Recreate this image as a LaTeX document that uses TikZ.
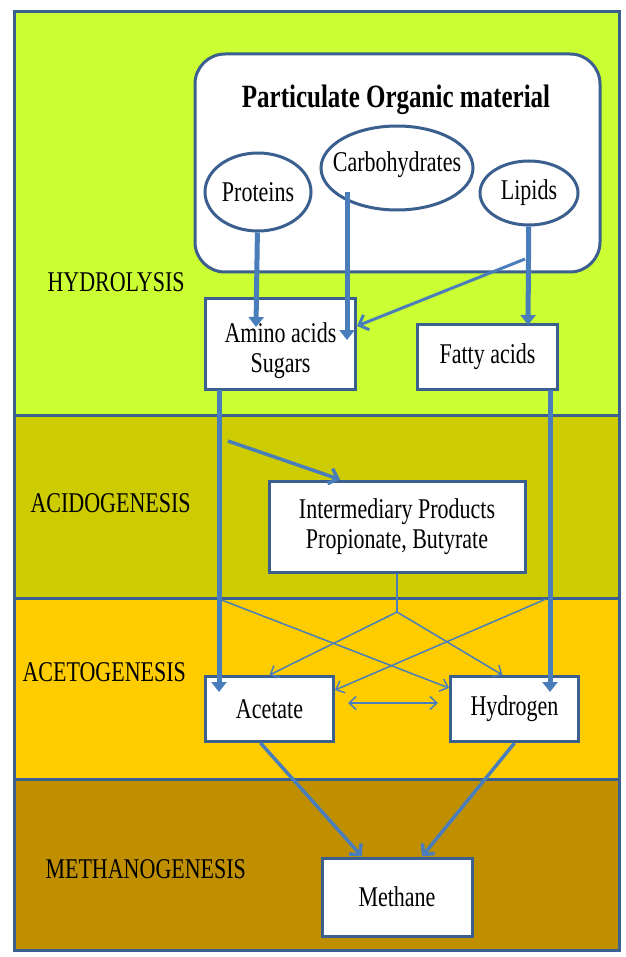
\documentclass[tikz,border=0pt]{standalone}
\usepackage{fontspec}
\usepackage{graphicx}
\setmainfont{Liberation Serif}
\usetikzlibrary{arrows.meta,shapes.geometric}
\definecolor{hydrolime}{HTML}{CCFF33}
\definecolor{acidolive}{HTML}{CCCC00}
\definecolor{acetogold}{HTML}{FFCC00}
\definecolor{methbrown}{HTML}{BF8F00}
\definecolor{edgeblue}{HTML}{3B5F8E}
\definecolor{flowblue}{HTML}{4A7EBB}
\newcommand{\tall}[1]{\scalebox{1}[1.3]{#1}}

\begin{document}
\begin{tikzpicture}[x=1pt, y=-1pt,
    band/.style={draw=edgeblue, line width=3pt},
    stage/.style={anchor=west, font=\fontsize{22}{26}\selectfont},
    box/.style={rectangle, draw=edgeblue, fill=white, line width=3pt, align=center, inner sep=0pt, font=\fontsize{22}{30}\selectfont},
    blob/.style={ellipse, draw=edgeblue, fill=white, line width=3pt, inner sep=-40pt, font=\fontsize{22}{26}\selectfont},
    fatflow/.style={draw=flowblue, line width=5pt, -{Triangle[width=15pt,length=10pt]}},
    midflow/.style={draw=flowblue, line width=3.5pt, -{Straight Barb[width=16pt,length=8pt]}},
    thinflow/.style={draw=flowblue, line width=1.5pt, -{Straight Barb[width=13pt,length=7pt]}}]

    \useasboundingbox (0,0) rectangle (625,957);
    \fill[white] (0,0) rectangle (625,957);

    % Stages
    \draw[band, fill=hydrolime] (14,12) rectangle (619,415);
    \draw[band, fill=acidolive] (14,415) rectangle (619,598);
    \draw[band, fill=acetogold] (14,598) rectangle (619,779);
    \draw[band, fill=methbrown] (14,779) rectangle (619,950);

    \node[stage] (hydro) at (44,282) {\tall{HYDROLYSIS}};
    \node[stage] (acido) at (27,503) {\tall{ACIDOGENESIS}};
    \node[stage] (aceto) at (19,672) {\tall{ACETOGENESIS}};
    \node[stage] (metha) at (42,869) {\tall{METHANOGENESIS}};

    % Particulate organic material
    \node[rectangle, draw=edgeblue, fill=white, line width=3pt, rounded corners=30pt,
          minimum width=405pt, minimum height=218pt] (pom) at (397.5,163) {};
    \node[font=\bfseries\fontsize{25}{30}\selectfont] (title) at (396,100) {\tall{Particulate Organic material}};

    \node[blob, minimum width=106pt, minimum height=78pt] (prot) at (258,192) {\tall{Proteins}};
    \node[blob, minimum width=152pt, minimum height=84pt] (carb) at (397,168) {\tall{Carbohydrates}\rule[-12pt]{0pt}{0pt}};
    \node[blob, minimum width=98pt, minimum height=64pt] (lipid) at (529,193) {\tall{Lipids}};

    % Products
    \node[box, minimum width=150pt, minimum height=91pt] (amino) at (280.5,344) {\rule{0pt}{34pt}\tall{Amino acids}\\\tall{Sugars}};
    \node[box, minimum width=140pt, minimum height=65pt] (fatty) at (487.5,357) {\tall{Fatty acids}};
    \node[box, minimum width=256pt, minimum height=91pt] (inter) at (397,526.5) {\tall{Intermediary Products}\\\tall{Propionate, Butyrate}};
    \node[box, minimum width=128pt, minimum height=65pt] (acet) at (269.5,709) {\tall{Acetate}};
    \node[box, minimum width=128pt, minimum height=65pt] (hydrog) at (514.5,709) {\tall{Hydrogen}};
    \node[box, minimum width=150pt, minimum height=78pt] (meth) at (397,897) {\tall{Methane}};

    % Free ends
    \coordinate (protin) at (256,327);
    \coordinate (carbtop) at (347,192);
    \coordinate (carbin) at (347,340);
    \coordinate (lipidout) at (525,259);
    \coordinate (lipidin) at (528,325);
    \coordinate (aminodown) at (219,390);
    \coordinate (acetin) at (219,692);
    \coordinate (fattydown) at (550,390);
    \coordinate (hydrogin) at (550,692);
    \coordinate (acidstart) at (228,441);
    \coordinate (split) at (397,612);
    \coordinate (crossa) at (219,599);
    \coordinate (crossb) at (546,599);

    % Hydrolysis
    \draw[fatflow] (prot) -- (protin);
    \draw[fatflow] (carbtop) -- (carbin);
    \draw[fatflow] (lipid) -- (lipidin);
    \draw[draw=flowblue, line width=3pt, -{Straight Barb[width=16pt,length=8pt]}] (lipidout) -- ([yshift=18pt]amino.east);

    % Acidogenesis
    \draw[fatflow] (aminodown) -- (acetin);
    \draw[fatflow] (fattydown) -- (hydrogin);
    \draw[midflow] (acidstart) -- ([xshift=-57pt]inter.north);

    % Acetogenesis
    \draw[draw=flowblue, line width=1.5pt] (inter.south) -- (split);
    \draw[thinflow] (split) -- (acet.north);
    \draw[thinflow] (split) -- ([xshift=-12pt]hydrog.north);
    \draw[thinflow] (crossa) -- ([yshift=21pt]hydrog.west);
    \draw[thinflow] (crossb) -- ([yshift=19pt]acet.east);
    \draw[thinflow, {Straight Barb[width=13pt,length=7pt]}-{Straight Barb[width=13pt,length=7pt]}] ([xshift=13pt,yshift=6pt]acet.east) -- ([xshift=-11pt,yshift=6pt]hydrog.west);

    % Methanogenesis
    \draw[midflow] ([xshift=-9pt]acet.south) -- ([xshift=-35pt]meth.north);
    \draw[midflow] (hydrog.south) -- ([xshift=25pt]meth.north);
\end{tikzpicture}
\end{document}
